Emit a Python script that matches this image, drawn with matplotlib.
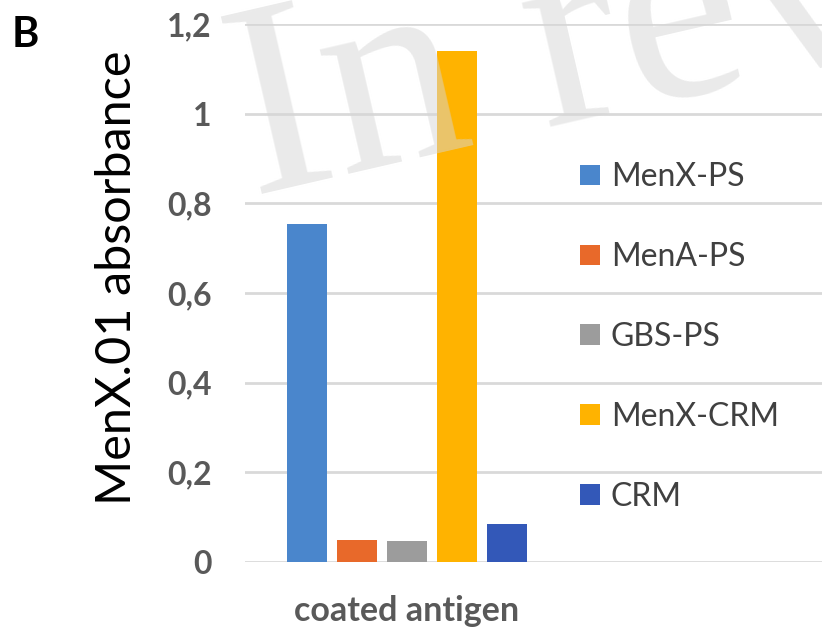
import matplotlib
matplotlib.use("Agg")
import matplotlib.pyplot as plt
from matplotlib.patches import Patch

# data
antigens = ['MenX-PS', 'MenA-PS', 'GBS-PS', 'MenX-CRM', 'CRM']
absorbance = [0.754, 0.049, 0.046, 1.14, 0.085]
colors = ['#4a86cc', '#e8692a', '#9c9c9c', '#ffb300', '#3358b8']
yticks = [0, 0.2, 0.4, 0.6, 0.8, 1.0, 1.2]
ytick_labels = ['0', '0,2', '0,4', '0,6', '0,8', '1', '1,2']
category = 'coated antigen'

plt.rcParams['font.family'] = ['Lato', 'DejaVu Sans']

fig = plt.figure(figsize=(8.22, 6.30), dpi=100)
ax = fig.add_axes([245 / 822, 68 / 630, 577 / 822, 538 / 630])

x = list(range(len(antigens)))
ax.bar(x, absorbance, width=0.8, color=colors, zorder=3)

ax.set_ylim(0, 1.2)
ax.set_xlim(-1.24, 10.3)
ax.set_yticks(yticks)
ax.set_yticklabels(ytick_labels, fontsize=23, fontweight='bold', color='#595959')
ax.set_xticks([2])
ax.set_xticklabels([category], fontsize=24.5, fontweight='bold', color='#595959')
ax.tick_params(axis='y', length=0, pad=24)
ax.tick_params(axis='x', length=0, pad=24)
ax.yaxis.grid(True, color='#d9d9d9', linewidth=2, zorder=1)
ax.set_axisbelow(True)
for s in ax.spines.values():
    s.set_visible(False)

ax.set_ylabel('MenX.01 absorbance', fontsize=35, color='black')
ax.yaxis.set_label_coords(-0.184, 0.528)

handles = [Patch(facecolor=c, edgecolor='none') for c in colors]
ax.legend(handles, antigens, loc='center left', bbox_to_anchor=(580 / 822, 1 - 337 / 630),
          bbox_transform=fig.transFigure, frameon=False, fontsize=23, labelcolor='#404040',
          handlelength=0.62, handleheight=0.62, handletextpad=0.35, labelspacing=1.56,
          borderpad=0, borderaxespad=0)

fig.text(12 / 822, 1 - 47 / 630, 'B', fontsize=30, fontweight='bold', color='black')

# watermark over the chart
fig.text(252 / 822, 1 - 196 / 630, 'In review', fontsize=200, family='Liberation Serif',
         color='#d6d6d6', alpha=0.5, rotation=13, rotation_mode='anchor',
         ha='left', va='baseline', zorder=10)

fig.savefig('out.png', dpi=100)
